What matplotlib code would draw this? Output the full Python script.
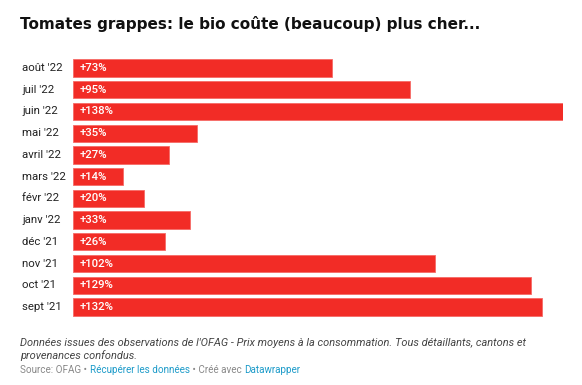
import matplotlib
matplotlib.use("Agg")
import matplotlib.pyplot as plt

months = ["août '22", "juil '22", "juin '22", "mai '22", "avril '22", "mars '22",
          "févr '22", "janv '22", "déc '21", "nov '21", "oct '21", "sept '21"]
values = [73, 95, 138, 35, 27, 14, 20, 33, 26, 102, 129, 132]

W, H = 582, 385
fig = plt.figure(figsize=(W / 100, H / 100), dpi=100)
plt.rcParams['font.family'] = ['Roboto', 'DejaVu Sans']

bar_color = '#f22c26'
ax_left, ax_right = 73 / W, 563 / W
ax_top, ax_bot = 57.2 / H, 317.8 / H
ax = fig.add_axes([ax_left, 1 - ax_bot, ax_right - ax_left, ax_bot - ax_top])
pos = list(range(len(months)))
ax.barh(pos, values, height=0.8, color=bar_color, edgecolor='#f66a66', linewidth=0.6)
ax.set_xlim(0, 138)
ax.set_ylim(len(months) - 0.5, -0.5)
for s in ax.spines.values():
    s.set_visible(False)
ax.set_xticks([])
ax.set_yticks([])

for p, v, m in zip(pos, values, months):
    ax.annotate(f"+{v}%", (0, p), xytext=(4.5, 0), textcoords='offset points',
                va='center', ha='left', color='white', fontsize=8.2, fontweight='medium')
    ax.text(-51 / 490 * 138, p, m, va='center', ha='left', fontsize=8.2, color='#222222')

fig.text(20 / W, 1 - 24.5 / H, "Tomates grappes: le bio coûte (beaucoup) plus cher...",
         fontsize=11, fontweight='bold', va='center', ha='left', color='#111111',
         family=['DejaVu Sans'])

fig.text(20 / W, 1 - 343 / H,
         "Données issues des observations de l'OFAG - Prix moyens à la consommation. Tous détaillants, cantons et",
         fontsize=7.9, style='italic', color='#444444', va='center', ha='left')
fig.text(20 / W, 1 - 356 / H, "provenances confondus.",
         fontsize=7.9, style='italic', color='#444444', va='center', ha='left')

pieces = [("Source: OFAG • ", '#888888'), ("Récupérer les données", '#1d9bc9'),
          (" • Créé avec ", '#888888'), ("Datawrapper", '#1d9bc9')]
fig.canvas.draw()
r = fig.canvas.get_renderer()
x = 20
for txt, col in pieces:
    t = fig.text(x / W, 1 - 370 / H, txt, fontsize=7.1, color=col, va='center', ha='left')
    bb = t.get_window_extent(renderer=r)
    x += bb.width

fig.savefig("out.png", dpi=100, facecolor='white')
